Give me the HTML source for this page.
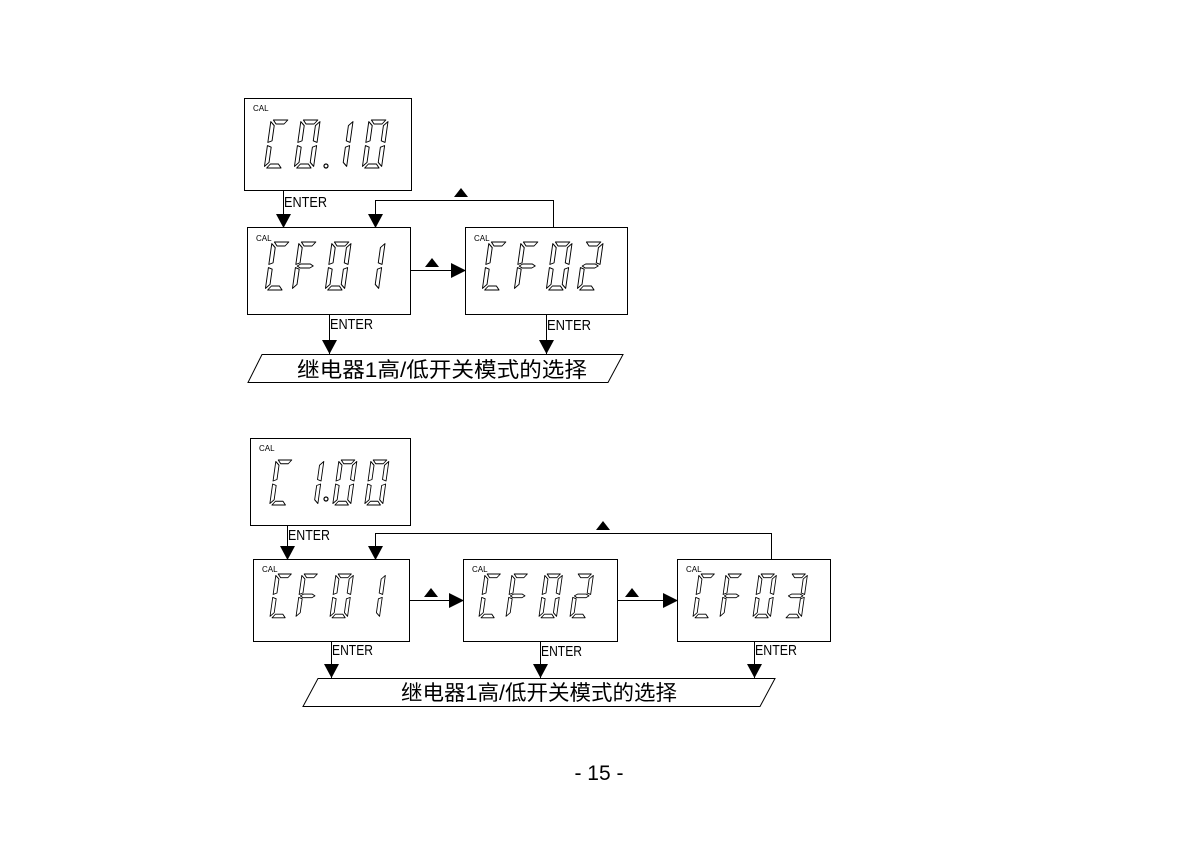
<!DOCTYPE html>
<html><head><meta charset="utf-8"><style>
html,body{margin:0;padding:0;background:#fff;}
svg{display:block}
.t{font-family:"Liberation Sans",sans-serif;font-size:15px;fill:#000;}
.cal{font-family:"Liberation Sans",sans-serif;font-size:8px;fill:#000;}
.cn{font-family:"Liberation Sans","Noto Sans CJK SC",sans-serif;font-size:21px;fill:#000;}
</style></head><body>
<svg width="1200" height="851" viewBox="0 0 1200 851" xmlns="http://www.w3.org/2000/svg">
<defs>
<g id="sa"><polygon points="3,0 21,0 17,5 7,5"/></g>
<g id="sb"><polygon points="24,2 24,28 19,26 19,7"/></g>
<g id="sc"><polygon points="24,32 24,58 19,53 19,34"/></g>
<g id="sd"><polygon points="3,60 21,60 17,55 7,55"/></g>
<g id="se"><polygon points="0,32 0,58 5,53 5,34"/></g>
<g id="sf"><polygon points="0,2 0,28 5,26 5,7"/></g>
<g id="sg"><polygon points="2,30 6,27.5 18,27.5 22,30 18,32.5 6,32.5"/></g>
<g id="dC"><use href="#sa"/><use href="#sd"/><use href="#se"/><use href="#sf"/></g>
<g id="dF"><use href="#sa"/><use href="#se"/><use href="#sf"/><use href="#sg"/></g>
<g id="d0"><use href="#sa"/><use href="#sb"/><use href="#sc"/><use href="#sd"/><use href="#se"/><use href="#sf"/></g>
<g id="d1"><use href="#sb"/><use href="#sc"/></g>
<g id="d2"><use href="#sa"/><use href="#sb"/><use href="#sg"/><use href="#se"/><use href="#sd"/></g>
<g id="d3"><use href="#sa"/><use href="#sb"/><use href="#sg"/><use href="#sc"/><use href="#sd"/></g>
</defs>
<g fill="#fff" stroke="#000" stroke-width="1">
<rect x="244.5" y="98.5" width="167" height="92"/>
<rect x="247.5" y="227.5" width="163" height="87"/>
<rect x="465.5" y="227.5" width="162" height="87"/>
<rect x="250.5" y="438.5" width="160" height="87"/>
<rect x="253.5" y="559.5" width="156" height="82"/>
<rect x="463.5" y="559.5" width="154" height="82"/>
<rect x="677.5" y="559.5" width="153" height="82"/>
<polygon points="262,354.5 623,354.5 608,382.5 248,382.5"/>
<polygon points="318,678.5 775,678.5 760,706.5 303,706.5"/>
</g>
<g fill="#fff" stroke="#000" stroke-width="1.2" stroke-linejoin="round">
<g transform="translate(271,120) scale(0.8) skewX(-8)"><use href="#dC"/></g>
<g transform="translate(301,120) scale(0.8) skewX(-8)"><use href="#d0"/></g>
<g transform="translate(334,120) scale(0.8) skewX(-8)"><use href="#d1"/></g>
<g transform="translate(369,120) scale(0.8) skewX(-8)"><use href="#d0"/></g>
<circle cx="326" cy="166" r="2"/>
<g transform="translate(272,242) scale(0.8) skewX(-8)"><use href="#dC"/></g>
<g transform="translate(299,242) scale(0.8) skewX(-8)"><use href="#dF"/></g>
<g transform="translate(332,242) scale(0.8) skewX(-8)"><use href="#d0"/></g>
<g transform="translate(366,242) scale(0.8) skewX(-8)"><use href="#d1"/></g>
<g transform="translate(489,242) scale(0.8) skewX(-8)"><use href="#dC"/></g>
<g transform="translate(521,242) scale(0.8) skewX(-8)"><use href="#dF"/></g>
<g transform="translate(553,242) scale(0.8) skewX(-8)"><use href="#d0"/></g>
<g transform="translate(584,242) scale(0.8) skewX(-8)"><use href="#d2"/></g>
<g transform="translate(276,460) scale(0.75) skewX(-8)"><use href="#dC"/></g>
<g transform="translate(306,460) scale(0.75) skewX(-8)"><use href="#d1"/></g>
<g transform="translate(339,460) scale(0.75) skewX(-8)"><use href="#d0"/></g>
<g transform="translate(371,460) scale(0.75) skewX(-8)"><use href="#d0"/></g>
<circle cx="326" cy="499" r="2"/>
<g transform="translate(276,574) scale(0.73) skewX(-8)"><use href="#dC"/></g>
<g transform="translate(302,574) scale(0.73) skewX(-8)"><use href="#dF"/></g>
<g transform="translate(336,574) scale(0.73) skewX(-8)"><use href="#d0"/></g>
<g transform="translate(368,574) scale(0.73) skewX(-8)"><use href="#d1"/></g>
<g transform="translate(485,574) scale(0.73) skewX(-8)"><use href="#dC"/></g>
<g transform="translate(512,574) scale(0.73) skewX(-8)"><use href="#dF"/></g>
<g transform="translate(545,574) scale(0.73) skewX(-8)"><use href="#d0"/></g>
<g transform="translate(576,574) scale(0.73) skewX(-8)"><use href="#d2"/></g>
<g transform="translate(699,574) scale(0.73) skewX(-8)"><use href="#dC"/></g>
<g transform="translate(726,574) scale(0.73) skewX(-8)"><use href="#dF"/></g>
<g transform="translate(759,574) scale(0.73) skewX(-8)"><use href="#d0"/></g>
<g transform="translate(790,574) scale(0.73) skewX(-8)"><use href="#d3"/></g>
</g>
<g class="cal">
<text x="253" y="111">CAL</text>
<text x="256" y="241">CAL</text>
<text x="474" y="241">CAL</text>
<text x="259" y="451">CAL</text>
<text x="262" y="572">CAL</text>
<text x="472" y="572">CAL</text>
<text x="686" y="572">CAL</text>
</g>
<g stroke="#000" stroke-width="1" fill="none">
<path d="M283.5 190 V227"/>
<path d="M553.5 227 V200.5 H375.5 V227"/>
<path d="M410 270.5 H466"/>
<path d="M329.5 314 V354"/>
<path d="M546.5 314 V354"/>
<path d="M287.5 525 V559"/>
<path d="M771.5 559 V533.5 H375.5 V559"/>
<path d="M409 600.5 H463"/>
<path d="M617 600.5 H677"/>
<path d="M331.5 641 V678"/>
<path d="M540.5 641 V678"/>
<path d="M754.5 641 V678"/>
</g>
<g fill="#000">
<polygon points="276,214 291,214 283.5,228"/>
<polygon points="368,214 383,214 375.5,228"/>
<polygon points="322,340 337,340 329.5,354"/>
<polygon points="539,340 554,340 546.5,354"/>
<polygon points="280,546 295,546 287.5,560"/>
<polygon points="368,546 383,546 375.5,560"/>
<polygon points="324,664 339,664 331.5,678"/>
<polygon points="533,664 548,664 540.5,678"/>
<polygon points="747,664 762,664 754.5,678"/>
<polygon points="451,263 466,270.5 451,278"/>
<polygon points="449,593 464,600.5 449,608"/>
<polygon points="663,593 678,600.5 663,608"/>
<polygon points="454,197 468,197 461,188"/>
<polygon points="425,267 439,267 432,258"/>
<polygon points="596,530 610,530 603,521"/>
<polygon points="424,597 438,597 431,588"/>
<polygon points="625,597 639,597 632,588"/>
</g>
<g class="t">
<text x="284" y="207" textLength="43" lengthAdjust="spacingAndGlyphs">ENTER</text>
<text x="330" y="329" textLength="43" lengthAdjust="spacingAndGlyphs">ENTER</text>
<text x="547" y="330" textLength="44" lengthAdjust="spacingAndGlyphs">ENTER</text>
<text x="288" y="540" textLength="42" lengthAdjust="spacingAndGlyphs">ENTER</text>
<text x="332" y="655" textLength="41" lengthAdjust="spacingAndGlyphs">ENTER</text>
<text x="541" y="656" textLength="41" lengthAdjust="spacingAndGlyphs">ENTER</text>
<text x="755" y="655" textLength="42" lengthAdjust="spacingAndGlyphs">ENTER</text>
</g>
<text class="cn" x="297" y="377" textLength="290" lengthAdjust="spacingAndGlyphs">继电器1高/低开关模式的选择</text>
<text class="cn" x="401" y="700" textLength="276" lengthAdjust="spacingAndGlyphs">继电器1高/低开关模式的选择</text>
<text x="599" y="780" text-anchor="middle" font-family="Liberation Sans, sans-serif" font-size="21">- 15 -</text>
</svg>
</body></html>
